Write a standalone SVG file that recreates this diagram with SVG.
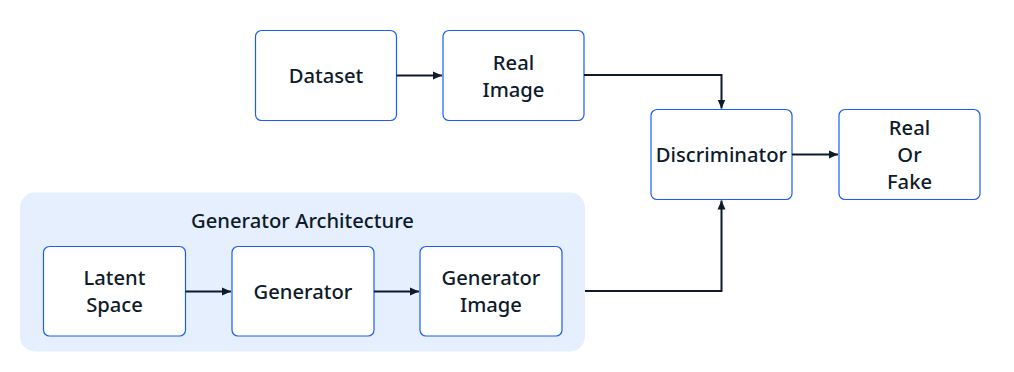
<svg xmlns="http://www.w3.org/2000/svg" width="1014" height="372" viewBox="0 0 1014 372">
<style>
.box{fill:#ffffff;stroke:#1a5cff;stroke-width:1.2}
.grp{fill:#e5effd}
.t{font-family:"Noto Sans","Open Sans",sans-serif;font-size:20.2px;font-weight:500;fill:#0d1b2a;text-anchor:middle;dominant-baseline:central}
.c{fill:none;stroke:#0d1b2a;stroke-width:2}
</style>
<defs>
<marker id="ah" markerWidth="10" markerHeight="10" refX="9" refY="5" orient="auto" markerUnits="userSpaceOnUse">
<path d="M0,1 L9,5 L0,9 Z" fill="#0d1b2a"/>
</marker>
</defs>
<g id="generator-architecture">
<rect class="grp" x="20" y="192.5" width="565" height="159" rx="15"/>
<text class="t" x="302.5" y="220">Generator Architecture</text>
</g>
<g id="dataset">
<rect class="box" x="255.5" y="30.5" width="141" height="90" rx="6"/>
<text class="t" x="326" y="74.5">Dataset</text>
</g>
<g id="real-image">
<rect class="box" x="443" y="30.5" width="141" height="90" rx="6"/>
<text class="t" x="513.5" y="61.5">Real</text>
<text class="t" x="513.5" y="88.5">Image</text>
</g>
<g id="discriminator">
<rect class="box" x="651" y="109.5" width="141" height="90" rx="6"/>
<text class="t" x="721.5" y="153.5">Discriminator</text>
</g>
<g id="real-or-fake">
<rect class="box" x="839" y="109.5" width="141" height="90" rx="6"/>
<text class="t" x="909.5" y="127">Real</text>
<text class="t" x="909.5" y="154">Or</text>
<text class="t" x="909.5" y="181">Fake</text>
</g>
<g id="latent-space">
<rect class="box" x="43.5" y="246.5" width="142" height="89.5" rx="6"/>
<text class="t" x="114.5" y="277">Latent</text>
<text class="t" x="114.5" y="304">Space</text>
</g>
<g id="generator">
<rect class="box" x="232" y="246.5" width="142" height="89.5" rx="6"/>
<text class="t" x="303" y="290.5">Generator</text>
</g>
<g id="generator-image">
<rect class="box" x="420" y="246.5" width="142" height="89.5" rx="6"/>
<text class="t" x="491" y="277">Generator</text>
<text class="t" x="491" y="304">Image</text>
</g>
<g id="connectors">
<path class="c" d="M396.5,75.5 H442" marker-end="url(#ah)"/>
<path class="c" d="M584,75 H721.5 V108.5" marker-end="url(#ah)"/>
<path class="c" d="M792,154.5 H838" marker-end="url(#ah)"/>
<path class="c" d="M185.5,291.5 H231" marker-end="url(#ah)"/>
<path class="c" d="M374,291.5 H419" marker-end="url(#ah)"/>
<path class="c" d="M585,291 H721.5 V200.5" marker-end="url(#ah)"/>
</g>
</svg>
